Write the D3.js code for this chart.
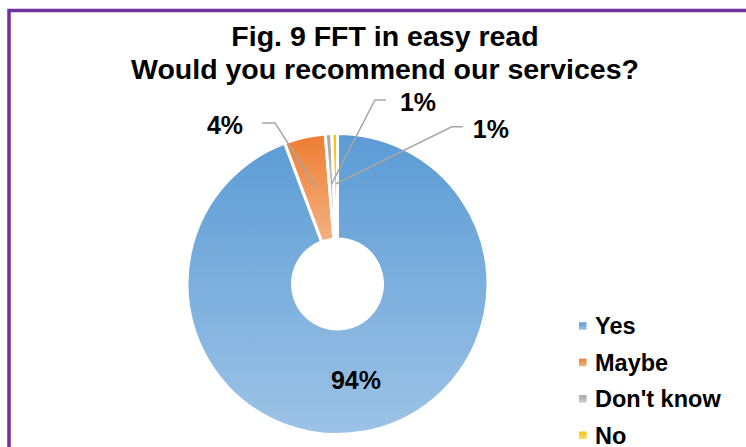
<!DOCTYPE html>
<html>
<head>
<meta charset="utf-8">
<script src="https://cdn.jsdelivr.net/npm/d3@7"></script>
<style>
  body { margin: 0; background: #fff; }
  svg { display: block; font-family: "Liberation Sans", Arial, sans-serif; font-weight: bold; }
</style>
</head>
<body>
<div id="chart"></div>
<script>
// data
var categories = ["Yes", "Maybe", "Don't know", "No"];
var shares = [94.3, 4.4, 0.7, 0.6];
var colorTop = ["#5b9bd5", "#ed7d31", "#a5a5a5", "#ffc000"];
var colorBottom = ["#9dc3e6", "#f4b183", "#cfcfcf", "#ffd966"];
var titleLines = ["Fig. 9 FFT in easy read", "Would you recommend our services?"];

var width = 746, height = 447;
var cx = 337.5, cy = 284;
var rOuter = 150.5, rInner = 45;

// callouts for the thin slices: elbow in polar coords around the centre
var callouts = [
  null,
  { ang: 338.8, rad: 172.7, run: -13, gap: 19 },
  { ang: 11.5, rad: 187.8, run: 11, gap: 14 },
  { ang: 36, rad: 194.4, run: 11, gap: 10 }
];

var svg = d3.select("#chart").append("svg")
  .attr("width", width)
  .attr("height", height);

// purple frame, cut off at right and bottom
svg.append("rect")
  .attr("x", 9).attr("y", 10.5)
  .attr("width", 800).attr("height", 500)
  .attr("fill", "none")
  .attr("stroke", "#7030a0")
  .attr("stroke-width", 3.5);

var defs = svg.append("defs");
categories.forEach(function(c, i) {
  var g = defs.append("linearGradient")
    .attr("id", "grad" + i)
    .attr("x1", 0).attr("y1", 0).attr("x2", 0).attr("y2", 1);
  g.append("stop").attr("offset", "0%").attr("stop-color", colorTop[i]);
  g.append("stop").attr("offset", "100%").attr("stop-color", colorBottom[i]);
});

// title
svg.selectAll("text.title")
  .data(titleLines)
  .enter().append("text")
  .attr("class", "title")
  .attr("x", 385)
  .attr("y", (d, i) => i === 0 ? 46 : 79)
  .attr("text-anchor", "middle")
  .attr("font-size", 28.5)
  .attr("fill", "#000")
  .text(d => d);

var pie = d3.pie().sort(null).value(d => d);
var arcs = pie(shares);

var arc = d3.arc().innerRadius(rInner).outerRadius(rOuter);
var labelArc = d3.arc().innerRadius(98).outerRadius(98);
var pointArc = d3.arc().innerRadius(100).outerRadius(100);

var chartGroup = svg.append("g")
  .attr("transform", `translate(${cx}, ${cy})`);

chartGroup.selectAll("path.slice")
  .data(arcs)
  .enter().append("path")
  .attr("class", "slice")
  .attr("d", arc)
  .attr("fill", (d, i) => `url(#grad${i})`)
  .attr("stroke", "#fff")
  .attr("stroke-width", 3);

// inside label for the big slice
chartGroup.append("text")
  .attr("x", labelArc.centroid(arcs[0])[0] + 1)
  .attr("y", labelArc.centroid(arcs[0])[1] + 9)
  .attr("text-anchor", "middle")
  .attr("font-size", 25)
  .attr("fill", "#000")
  .text(Math.round(shares[0]) + "%");

// leader lines and outside labels
arcs.forEach(function(a, i) {
  var co = callouts[i];
  if (!co) return;
  var p = pointArc.centroid(a);
  var t = co.ang * Math.PI / 180;
  var ex = co.rad * Math.sin(t), ey = -co.rad * Math.cos(t);
  chartGroup.append("polyline")
    .attr("points", [p, [ex, ey], [ex + co.run, ey]].map(q => q.join(",")).join(" "))
    .attr("fill", "none")
    .attr("stroke", "#a6a6a6")
    .attr("stroke-width", 1.5);
  var dir = co.run < 0 ? -1 : 1;
  chartGroup.append("text")
    .attr("x", ex + co.run + dir * co.gap)
    .attr("y", ey + 11)
    .attr("text-anchor", dir < 0 ? "end" : "start")
    .attr("font-size", 25)
    .attr("fill", "#000")
    .text(Math.round(shares[i]) + "%");
});

// legend
var legend = svg.append("g").attr("transform", "translate(579, 326)");
var rows = legend.selectAll("g")
  .data(categories)
  .enter().append("g")
  .attr("transform", (d, i) => `translate(0, ${i * 36.4})`);
rows.append("rect")
  .attr("x", 0).attr("y", -3.7)
  .attr("width", 7.5).attr("height", 7.5)
  .attr("fill", (d, i) => `url(#grad${i})`);
rows.append("text")
  .attr("x", 16)
  .attr("y", 8.3)
  .attr("font-size", 23.5)
  .attr("fill", "#000")
  .text(d => d);
</script>
</body>
</html>
